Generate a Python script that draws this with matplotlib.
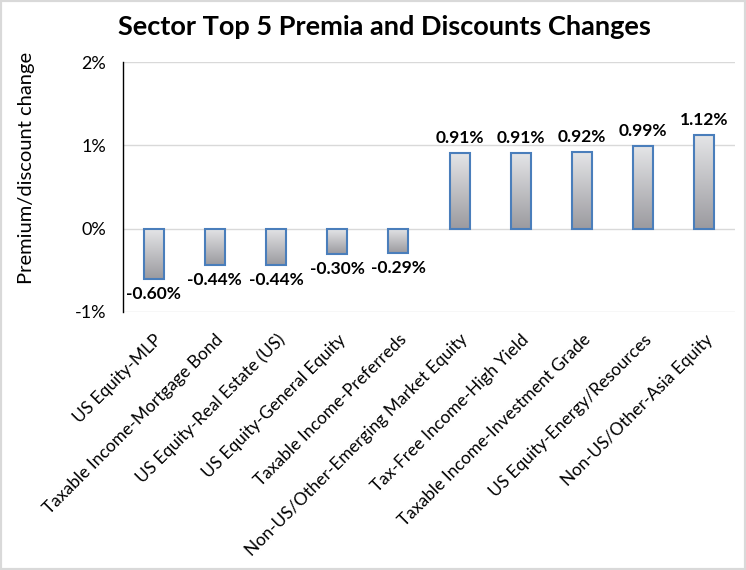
import numpy as np
import matplotlib
matplotlib.use("Agg")
import matplotlib.pyplot as plt
from matplotlib.patches import Rectangle
from matplotlib.colors import LinearSegmentedColormap

plt.rcParams['font.family'] = ['Lato', 'DejaVu Sans']

# data (percent)
sectors = [
    "US Equity-MLP",
    "Taxable Income-Mortgage Bond",
    "US Equity-Real Estate (US)",
    "US Equity-General Equity",
    "Taxable Income-Preferreds",
    "Non-US/Other-Emerging Market Equity",
    "Tax-Free Income-High Yield",
    "Taxable Income-Investment Grade",
    "US Equity-Energy/Resources",
    "Non-US/Other-Asia Equity",
]
changes = [-0.60, -0.44, -0.44, -0.30, -0.29, 0.91, 0.91, 0.92, 0.99, 1.12]
yticks = [-1, 0, 1, 2]

fig = plt.figure(figsize=(7.46, 5.70), dpi=100)
ax = fig.add_axes([123 / 746, 1 - 312 / 570, 612 / 746, 250 / 570])

x = np.arange(len(sectors))
bars = ax.bar(x, changes, width=0.33, color='none', edgecolor='#4a7ebb',
              linewidth=1.5, zorder=3)

# vertical gray gradient inside each bar (light at top, darker at bottom)
grad_cmap = LinearSegmentedColormap.from_list('g', ['#9b9a9f', '#e4e5e7'])
grad = np.linspace(0, 1, 256).reshape(-1, 1)
for b in bars:
    x0, y0 = b.get_x(), b.get_y()
    w, h = b.get_width(), b.get_height()
    lo, hi = min(y0, y0 + h), max(y0, y0 + h)
    im = ax.imshow(grad, cmap=grad_cmap, aspect='auto', origin='lower',
                   extent=[x0, x0 + w, lo, hi], zorder=2)
    im.set_clip_path(b)

for xi, v in zip(x, changes):
    if v >= 0:
        ax.annotate(f"{v:.2f}%", (xi, v), xytext=(0, 5), textcoords='offset points',
                    ha='center', va='bottom', fontsize=12.5, fontweight='bold')
    else:
        ax.annotate(f"{v:.2f}%", (xi, v), xytext=(0, -5), textcoords='offset points',
                    ha='center', va='top', fontsize=12.5, fontweight='bold')

ax.set_xlim(-0.5, len(sectors) - 0.5)
ax.set_ylim(-1, 2)
ax.set_yticks(yticks)
ax.set_yticklabels([f"{t}%" for t in yticks], fontsize=13)
ax.set_xticks(x)
ax.set_xticklabels(sectors, rotation=45, ha='right', rotation_mode='anchor', fontsize=12.5)
ax.tick_params(axis='both', length=0)
ax.tick_params(axis='y', pad=12)
ax.tick_params(axis='x', pad=14)
ax.grid(axis='y', color='#d9d9d9', linewidth=1)
ax.set_axisbelow(True)
for s in ['top', 'right', 'bottom']:
    ax.spines[s].set_visible(False)
ax.spines['left'].set_color('black')
ax.spines['left'].set_linewidth(1)
ax.spines['left'].set_zorder(4)

ax.set_ylabel("Premium/discount change", fontsize=14.5, va='center')
ax.yaxis.set_label_coords(-0.158, 0.575)
fig.text(384 / 746, 1 - 27 / 570, "Sector Top 5 Premia and Discounts Changes",
         ha='center', va='center', fontsize=19.5, fontweight='bold')

# light gray chart border
fig.patches.append(Rectangle((0, 0), 1, 1, transform=fig.transFigure, fill=False,
                             edgecolor='#d9d9d9', linewidth=3))

fig.savefig("out.png", dpi=100)
